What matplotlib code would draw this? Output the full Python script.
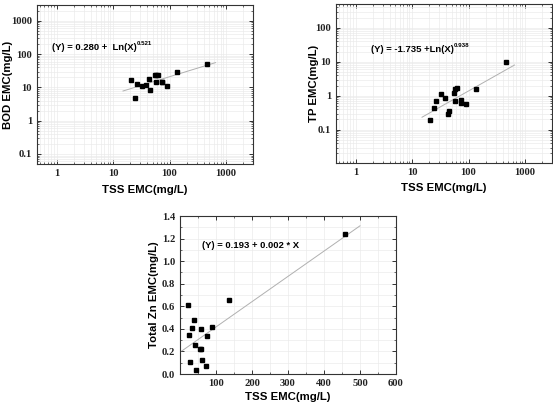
import matplotlib
matplotlib.use("Agg")
import matplotlib.pyplot as plt
import numpy as np
from matplotlib.ticker import FixedLocator, FuncFormatter, LogLocator, MultipleLocator

# ---------------- data ----------------
tss = [21, 24, 27, 33, 38, 43, 45, 55, 57, 58, 62, 73, 74, 89, 137, 458]
bod = [17, 4.9, 13, 11, 12, 17.5, 8.3, 24, 14.8, 24, 23.5, 14.8, 15, 10.7, 30, 52]
tp = [0.19, 0.45, 0.70, 1.12, 0.84, 0.30, 0.36, 1.22, 0.70, 1.53, 1.68, 0.75, 0.62, 0.56, 1.53, 9.9]
zn = [0.61, 0.35, 0.11, 0.41, 0.475, 0.26, 0.035, 0.22, 0.40, 0.22, 0.127, 0.074, 0.336, 0.42, 0.66, 1.24]

# fitted relations (log10(Y) = a + b*log10(X); linear Y = a + b*X)
bod_fit = (0.280, 0.521)
tp_fit = (-1.735, 0.938)
zn_fit = (0.193, 0.00224)
fit_range_log = (15, 650)
fit_range_lin = (5, 500)

x_label = "TSS EMC(mg/L)"
y_labels = ["BOD EMC(mg/L)", "TP EMC(mg/L)", "Total Zn EMC(mg/L)"]
eq_main = ["(Y) = 0.280 +  Ln(X)", "(Y) = -1.735 +Ln(X)", "(Y) = 0.193 + 0.002 * X"]
eq_sup = ["0.521", "0.938", ""]

W, H = 553, 405
fig = plt.figure(figsize=(W / 100, H / 100), dpi=100)

def rect(l, t, r, b):
    return [l / W, 1 - b / H, (r - l) / W, (b - t) / H]

ax1 = fig.add_axes(rect(37, 5, 253, 164))
ax2 = fig.add_axes(rect(336, 4, 552, 163))
ax3 = fig.add_axes(rect(180, 216, 396, 374))

label_font = dict(family="Liberation Sans", weight="bold", size=8.2)
eq_font = dict(family="Liberation Sans", weight="bold", size=6.8)

fmt = FuncFormatter(lambda v, p: "%g" % v)

def style(ax, xlab_y, ylab_x):
    for s in ax.spines.values():
        s.set_color("#333333")
        s.set_linewidth(0.8)
    ax.tick_params(which="both", direction="in", top=True, right=True,
                   color="#333333", pad=3.5)
    ax.tick_params(which="major", length=3, width=0.7)
    ax.tick_params(which="minor", length=1.6, width=0.5)
    for lab in ax.get_xticklabels() + ax.get_yticklabels():
        lab.set_fontfamily("Liberation Serif")
        lab.set_fontweight("bold")
        lab.set_fontsize(7.6)
        lab.set_color("#222222")
    ax.grid(True, which="both", color="#ebebeb", linewidth=0.5)
    ax.set_axisbelow(True)
    ax.xaxis.set_label_coords(0.5, xlab_y)
    ax.yaxis.set_label_coords(ylab_x, 0.5)

# ---- log plots ----
for ax, y, fit, ylim, yticks, ylab, lx, ly in [
    (ax1, bod, bod_fit, (0.05, 3000), [0.1, 1, 10, 100, 1000], y_labels[0], -0.132, -0.113),
    (ax2, tp, tp_fit, (0.0105, 500), [0.1, 1, 10, 100], y_labels[1], -0.126, -0.081),
]:
    ax.set_xscale("log")
    ax.set_yscale("log")
    xf = np.logspace(np.log10(fit_range_log[0]), np.log10(fit_range_log[1]), 50)
    ax.plot(xf, 10 ** (fit[0] + fit[1] * np.log10(xf)), color="#b0b0b0", lw=0.7, zorder=2)
    ax.plot(tss, y, "s", color="black", ms=3.3, zorder=3)
    ax.set_xlim(0.45, 3000)
    ax.set_ylim(*ylim)
    ax.xaxis.set_major_locator(FixedLocator([1, 10, 100, 1000]))
    ax.yaxis.set_major_locator(FixedLocator(yticks))
    ax.xaxis.set_major_formatter(fmt)
    ax.yaxis.set_major_formatter(fmt)
    ax.xaxis.set_minor_locator(LogLocator(base=10, subs=np.arange(2, 10)))
    ax.yaxis.set_minor_locator(LogLocator(base=10, subs=np.arange(2, 10)))
    ax.xaxis.set_minor_formatter(FuncFormatter(lambda v, p: ""))
    ax.yaxis.set_minor_formatter(FuncFormatter(lambda v, p: ""))
    ax.set_xlabel(x_label, **label_font)
    ax.set_ylabel(ylab, **label_font)
    style(ax, lx, ly)

t1 = ax1.text(52 / W, 1 - 48 / H, eq_main[0], transform=fig.transFigure,
              va="center", ha="left", **eq_font)
ax1.annotate(eq_sup[0], xy=(1.0, 0.7), xycoords=t1, va="bottom", ha="left",
             family="Liberation Sans", weight="bold", size=4.4)
t2 = ax2.text(371 / W, 1 - 50 / H, eq_main[1], transform=fig.transFigure,
              va="center", ha="left", **eq_font)
ax2.annotate(eq_sup[1], xy=(1.0, 0.7), xycoords=t2, va="bottom", ha="left",
             family="Liberation Sans", weight="bold", size=4.4)

# ---- linear plot ----
xf = np.linspace(fit_range_lin[0], fit_range_lin[1], 10)
ax3.plot(xf, zn_fit[0] + zn_fit[1] * xf, color="#b0b0b0", lw=0.7, zorder=2)
ax3.plot(tss, zn, "s", color="black", ms=3.3, zorder=3)
ax3.set_xlim(0, 600)
ax3.set_ylim(0, 1.4)
ax3.xaxis.set_major_locator(FixedLocator([100, 200, 300, 400, 500, 600]))
ax3.xaxis.set_minor_locator(MultipleLocator(50))
ax3.yaxis.set_major_locator(MultipleLocator(0.2))
ax3.yaxis.set_minor_locator(MultipleLocator(0.1))
ax3.yaxis.set_major_formatter(FuncFormatter(lambda v, p: "%.1f" % v))
ax3.set_xlabel(x_label, **label_font)
ax3.set_ylabel(y_labels[2], **label_font)
style(ax3, -0.114, -0.095)
ax3.text(202 / W, 1 - 245 / H, eq_main[2], transform=fig.transFigure,
         va="center", ha="left", **eq_font)

fig.savefig("out.png", dpi=100)
